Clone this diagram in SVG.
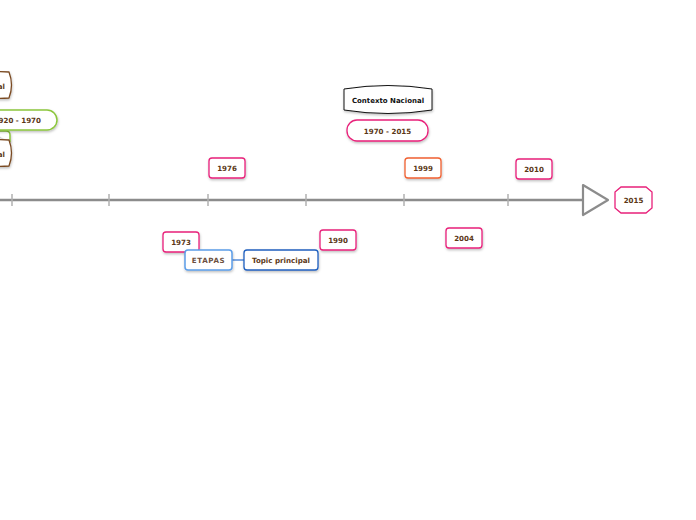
<svg xmlns="http://www.w3.org/2000/svg" width="696" height="520" viewBox="0 0 696 520">
<defs>
<filter id="sh" x="-20%" y="-20%" width="140%" height="160%">
<feDropShadow dx="0.5" dy="1.5" stdDeviation="0.8" flood-color="#000" flood-opacity="0.25"/>
</filter>
<style>
.t{font-family:"DejaVu Sans","Liberation Sans",sans-serif;font-size:7.1px;font-weight:bold;fill:#5b3716;text-anchor:middle}
.k{font-family:"DejaVu Sans","Liberation Sans",sans-serif;font-size:7px;font-weight:bold;fill:#111;text-anchor:middle}
.pk{fill:#fff;stroke:#e8207a;stroke-width:1.3}
.or{fill:#fff;stroke:#f06030;stroke-width:1.3}
.br{fill:#fff;stroke:#7a4a22;stroke-width:1.3}
.gr{fill:#fff;stroke:#8cc63e;stroke-width:1.5}
.tick{stroke:#b0b0b0;stroke-width:1.5}
</style>
</defs>
<rect width="696" height="520" fill="#fff"/>
<g id="connectors">
<line x1="0" y1="200" x2="584" y2="200" stroke="#8c8c8c" stroke-width="2.5"/>
<line class="tick" x1="12" y1="194" x2="12" y2="206"/>
<line class="tick" x1="109" y1="194" x2="109" y2="206"/>
<line class="tick" x1="208" y1="194" x2="208" y2="206"/>
<line class="tick" x1="306" y1="194" x2="306" y2="206"/>
<line class="tick" x1="404" y1="194" x2="404" y2="206"/>
<line class="tick" x1="508" y1="194" x2="508" y2="206"/>
<polygon points="583,185 608,200 583,215" fill="#fff" stroke="#8c8c8c" stroke-width="2.2" stroke-linejoin="round"/>
<line x1="232" y1="260" x2="244" y2="260" stroke="#2a6fcf" stroke-width="1.2"/>
</g>
<g id="n-left-green-back">
<path class="gr" d="M-10,131 L6,131 Q10,131 10,135 L10,142" filter="url(#sh)"/>
</g>
<g id="n-left-top">
<path class="br" d="M-20,73 Q-4,71 9,72 Q14,85 9,98 Q-4,99 -20,97 Z" filter="url(#sh)"/>
<text class="t" x="5" y="89" style="text-anchor:end">al</text>
</g>
<g id="n-1920">
<rect class="gr" x="-30" y="110" width="87" height="20" rx="10" filter="url(#sh)"/>
<text class="t" x="41" y="123" style="text-anchor:end">1920 - 1970</text>
</g>
<g id="n-left-bottom">
<path class="br" d="M-20,141 Q-4,139 9,140 Q14,153 9,166 Q-4,167 -20,165 Z" filter="url(#sh)"/>
<text class="t" x="5" y="157" style="text-anchor:end">al</text>
</g>
<g id="n-contexto">
<path d="M344,89 Q388,82 432,89 L432,110 Q388,117 344,110 Z" fill="#fff" stroke="#111" stroke-width="1" filter="url(#sh)"/>
<text class="k" x="388" y="103">Contexto Nacional</text>
</g>
<g id="n-1970">
<rect class="pk" x="347" y="120" width="81" height="21" rx="10" filter="url(#sh)"/>
<text class="t" x="387.5" y="133.5">1970 - 2015</text>
</g>
<g id="n-1976">
<rect class="pk" x="209" y="158" width="36" height="20" rx="3" filter="url(#sh)"/>
<text class="t" x="227" y="171">1976</text>
</g>
<g id="n-1999">
<rect class="or" x="405" y="158" width="36" height="20" rx="3" filter="url(#sh)"/>
<text class="t" x="423" y="171">1999</text>
</g>
<g id="n-2010">
<rect class="pk" x="516" y="159" width="36" height="20" rx="3" filter="url(#sh)"/>
<text class="t" x="534" y="172">2010</text>
</g>
<g id="n-2015">
<polygon class="pk" points="621,187 646,187 652,192 652,208 646,213 621,213 615,208 615,192"/>
<text class="t" x="633.5" y="203">2015</text>
</g>
<g id="n-1973">
<rect class="pk" x="163" y="232" width="36" height="20" rx="3" filter="url(#sh)"/>
<text class="t" x="181" y="245">1973</text>
</g>
<g id="n-1990">
<rect class="pk" x="320" y="230" width="36" height="20" rx="3" filter="url(#sh)"/>
<text class="t" x="338" y="243">1990</text>
</g>
<g id="n-2004">
<rect class="pk" x="446" y="228" width="36" height="20" rx="3" filter="url(#sh)"/>
<text class="t" x="464" y="241">2004</text>
</g>
<g id="n-etapas">
<rect x="185" y="250" width="47" height="20" rx="3" fill="#fff" stroke="#5c9de8" stroke-width="1.5" filter="url(#sh)"/>
<text class="t" x="208.5" y="263" style="fill:#6b5040;letter-spacing:0.6px">ETAPAS</text>
</g>
<g id="n-topic">
<rect x="244" y="250" width="74" height="20" rx="3" fill="#fff" stroke="#1f5fbf" stroke-width="1.3" filter="url(#sh)"/>
<text class="t" x="281" y="263">Topic principal</text>
</g>
</svg>
